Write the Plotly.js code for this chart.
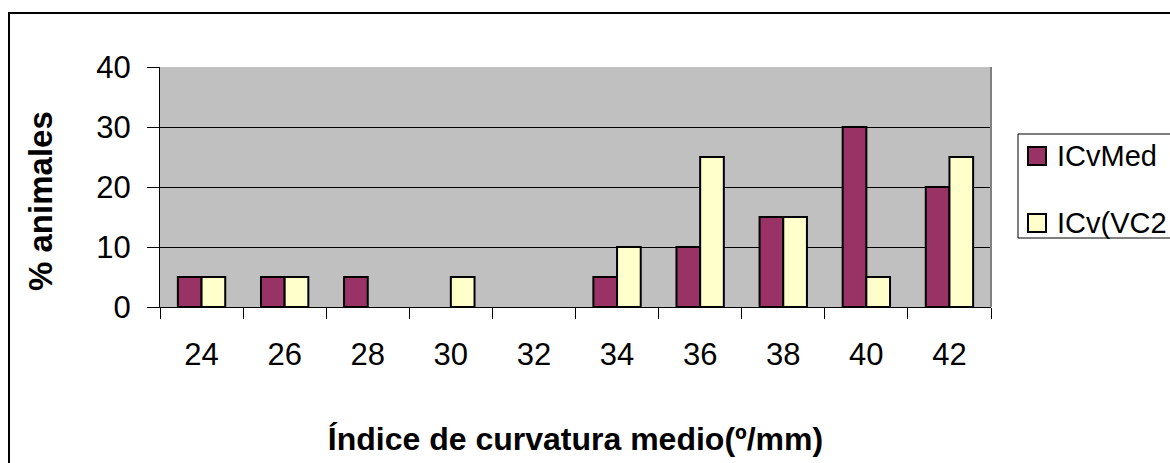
<!DOCTYPE html>
<html>
<head>
<meta charset="utf-8">
<script src="https://cdn.plot.ly/plotly-3.0.1.min.js"></script>
<style>html,body{margin:0;padding:0;background:#fff;}#chart{width:1170px;height:463px;}</style>
</head>
<body>
<div id="chart"></div>
<script>
const categories = ["24", "26", "28", "30", "32", "34", "36", "38", "40", "42"];
const icvMed = [5, 5, 5, 0, 0, 5, 10, 15, 30, 20];
const icvVC2 = [5, 5, 0, 5, 0, 10, 25, 15, 5, 25];
const seriesNames = ["ICvMed", "ICv(VC2"];
const seriesColors = ["#993366", "#FFFFCC"];
const yTicks = [0, 10, 20, 30, 40];

const font = "Liberation Sans, Arial, sans-serif";
const hideZero = arr => arr.map(v => (v === 0 ? null : v));

const traces = [icvMed, icvVC2].map((vals, i) => ({
  type: "bar", x: categories, y: hideZero(vals), name: seriesNames[i],
  marker: {color: seriesColors[i], line: {color: "#000", width: 2}}
}));

const L = 160, R = 991, T = 67, B = 307;
const pw = R - L, ph = B - T;
const px = v => (v - L) / pw;
const py = v => (B - v) / ph;

// manual legend (pixel geometry)
const legendItemsY = [156, 223];
const legendShapes = [
  {type: "rect", xref: "paper", yref: "paper", x0: px(1018), x1: px(1175), y0: py(238), y1: py(134),
   line: {color: "#000", width: 1}, fillcolor: "#fff"}
];
const legendAnn = [];
seriesNames.forEach((name, i) => {
  const cy = legendItemsY[i];
  legendShapes.push({type: "rect", xref: "paper", yref: "paper",
    x0: px(1028), x1: px(1046), y0: py(cy + 9), y1: py(cy - 9),
    line: {color: "#000", width: 2}, fillcolor: seriesColors[i]});
  legendAnn.push({xref: "paper", yref: "paper", x: px(1055), y: py(cy), xanchor: "left", yanchor: "middle",
    text: name, showarrow: false, font: {size: 29, family: font, color: "#000"}});
});

const layout = {
  width: 1170, height: 463,
  margin: {l: L, r: 1170 - R, t: T, b: 463 - B, pad: 0},
  paper_bgcolor: "#fff",
  plot_bgcolor: "#C0C0C0",
  barmode: "group",
  bargap: 0.43,
  bargroupgap: 0,
  showlegend: false,
  font: {family: font, color: "#000"},
  xaxis: {
    type: "category",
    tickson: "boundaries",
    ticks: "outside", ticklen: 11, tickcolor: "#000", tickwidth: 1,
    showline: true, linecolor: "#000", linewidth: 1,
    showgrid: false,
    tickfont: {size: 31, family: font},
    ticklabelstandoff: 20,
    title: {text: "Índice de curvatura medio(º/mm)", font: {size: 32, family: font, weight: "bold"}, standoff: 56}
  },
  yaxis: {
    range: [0, 40], tickvals: yTicks, ticktext: yTicks.map(String),
    ticks: "outside", ticklen: 12, tickcolor: "#000", tickwidth: 1,
    showline: true, linecolor: "#000", linewidth: 1,
    showgrid: true, gridcolor: "#000", gridwidth: 1,
    zeroline: false,
    tickfont: {size: 31, family: font},
    ticklabelstandoff: 10
  },
  annotations: [
    {xref: "paper", yref: "paper", x: px(40), y: py(201), xanchor: "center", yanchor: "middle",
     text: "% animales", textangle: -90, showarrow: false,
     font: {size: 33, family: font, weight: "bold", color: "#000"}}
  ].concat(legendAnn),
  shapes: [
    {type: "line", xref: "paper", yref: "paper", x0: 1, x1: 1, y0: 0, y1: 1,
     line: {color: "#808080", width: 2}},
    {type: "rect", xref: "paper", yref: "paper", x0: px(9), x1: px(1200), y0: py(500), y1: py(13),
     line: {color: "#000", width: 2}, fillcolor: "rgba(0,0,0,0)", layer: "below"}
  ].concat(legendShapes)
};

Plotly.newPlot("chart", traces, layout, {displayModeBar: false, staticPlot: true});
</script>
</body>
</html>
